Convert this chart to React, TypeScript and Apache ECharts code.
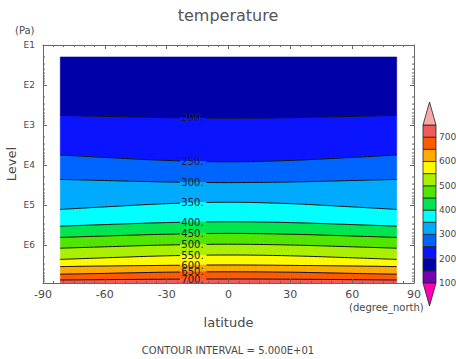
import React, { useEffect, useRef } from "react";
import * as echarts from "echarts";

// latitude samples (degree_north) at which contour positions were read
const LATS = [-81.6, -60, -30, 0, 30, 60, 81.6];
// contour levels (temperature)
const LEVELS = [200, 250, 300, 350, 400, 450, 500, 550, 600, 650, 700];
// log10(pressure [Pa]) of each contour at LATS
const C200 = [2.76, 2.785, 2.816, 2.83, 2.816, 2.785, 2.76];
const C250 = [3.75, 3.81, 3.886, 3.92, 3.886, 3.81, 3.75];
const C300 = [4.36, 4.388, 4.424, 4.44, 4.424, 4.388, 4.36];
const C350 = [5.11, 5.047, 4.966, 4.93, 4.966, 5.047, 5.11];
const C400 = [5.53, 5.49, 5.44, 5.42, 5.44, 5.49, 5.53];
const C450 = [5.81, 5.775, 5.73, 5.71, 5.73, 5.775, 5.81];
const C500 = [6.08, 6.045, 6.0, 5.98, 6.0, 6.045, 6.08];
const C550 = [6.36, 6.32, 6.27, 6.25, 6.27, 6.32, 6.36];
const C600 = [6.54, 6.525, 6.51, 6.5, 6.51, 6.525, 6.54];
const C650 = [6.73, 6.71, 6.68, 6.67, 6.68, 6.71, 6.73];
const C700 = [6.875, 6.866, 6.855, 6.85, 6.855, 6.866, 6.875];
const CONTOURS = [C200, C250, C300, C350, C400, C450, C500, C550, C600, C650, C700];
// vertical extent of the data (log10 Pa)
const DATA_TOP = 1.3;
const DATA_BOTTOM = 6.95;
// band colours: 150-200, 200-250, ..., 700-750
const BAND_COLORS = [
  "#0000a8", "#0a14ff", "#0064ff", "#00aaff", "#00ffff", "#00e650",
  "#50e600", "#aaf000", "#fffa00", "#ffaa00", "#ff5a00", "#f05a5a",
];
// colour bar
const CBAR_LEVELS = [100, 150, 200, 250, 300, 350, 400, 450, 500, 550, 600, 650, 700, 750];
const CBAR_COLORS = ["#7800b4", ...BAND_COLORS];
const LOW_COLOR = "#ff00b4";
const HIGH_COLOR = "#f8aaaa";
// axis settings
const LAT_MIN = -90;
const LAT_MAX = 90;
const LAT_STEP = 30;
const LOGP_MIN = 1;
const LOGP_MAX = 6.95;
const DECADES = [1, 2, 3, 4, 5, 6];
const MINOR_MULT = [2, 3, 4, 5, 6, 7, 8, 9];
const LABEL_LAT = -17.5;

const FONT = "DejaVu Sans";
const TXT = "#4a4a4a";
const AX = "#666";

function smooth(pts: number[][], steps = 14): number[][] {
  const out: number[][] = [];
  for (let i = 0; i < pts.length - 1; i++) {
    const p0 = pts[Math.max(0, i - 1)];
    const p1 = pts[i];
    const p2 = pts[i + 1];
    const p3 = pts[Math.min(pts.length - 1, i + 2)];
    for (let s = 0; s < steps; s++) {
      const t = s / steps;
      const t2 = t * t;
      const t3 = t2 * t;
      const f = (a: number, b: number, c: number, d: number) =>
        0.5 * (2 * b + (-a + c) * t + (2 * a - 5 * b + 4 * c - d) * t2 + (-a + 3 * b - 3 * c + d) * t3);
      out.push([f(p0[0], p1[0], p2[0], p3[0]), f(p0[1], p1[1], p2[1], p3[1])]);
    }
  }
  out.push(pts[pts.length - 1]);
  return out;
}

function curvePixels(api: any, vals: number[]): number[][] {
  return smooth(LATS.map((lat, k) => api.coord([lat, vals[k]])));
}

export default function App() {
  const ref = useRef<HTMLDivElement>(null);
  useEffect(() => {
    if (!ref.current) return;
    document.body.style.margin = "0";
    const chart = echarts.init(ref.current, undefined, { renderer: "svg" });
    const flatTop = LATS.map(() => DATA_TOP);
    const flatBottom = LATS.map(() => DATA_BOTTOM);
    const minorTicks: number[] = [];
    DECADES.forEach((d) =>
      MINOR_MULT.forEach((m) => {
        const v = d + Math.log10(m);
        if (v < LOGP_MAX) minorTicks.push(v);
      })
    );

    const axisCommon = {
      type: "value" as const,
      gridIndex: 0,
      axisLine: { show: true, onZero: false, lineStyle: { color: AX, width: 1 } },
      axisTick: { show: true, inside: true, length: 4, lineStyle: { color: AX } },
      splitLine: { show: false },
      z: 10,
    };

    chart.setOption({
      animation: false,
      backgroundColor: "#fff",
      textStyle: { fontFamily: FONT },
      title: {
        text: "temperature",
        left: "center",
        top: 2,
        textStyle: { fontFamily: FONT, fontSize: 16, fontWeight: "normal", color: "#555" },
      },
      grid: [
        { left: 43, top: 45, width: 371, height: 238, containLabel: false, outerBoundsMode: "none" },
        { left: 423, top: 125, width: 13, height: 158, containLabel: false, outerBoundsMode: "none" },
      ],
      xAxis: [
        {
          ...axisCommon,
          min: LAT_MIN,
          max: LAT_MAX,
          interval: LAT_STEP,
          position: "bottom",
          minorTick: { show: true, splitNumber: 6, length: 2, lineStyle: { color: AX } },
          axisLabel: { fontSize: 11, color: TXT, margin: 6, fontFamily: FONT },
          name: "latitude",
          nameLocation: "middle",
          nameGap: 33,
          nameMoveOverlap: false,
          nameTextStyle: { fontSize: 13, color: TXT, fontFamily: FONT },
        },
        {
          ...axisCommon,
          min: LAT_MIN,
          max: LAT_MAX,
          interval: LAT_STEP,
          position: "top",
          minorTick: { show: true, splitNumber: 6, length: 2, lineStyle: { color: AX } },
          axisLabel: { show: false },
        },
        { type: "value", gridIndex: 1, min: 0, max: 1, show: false },
      ],
      yAxis: [
        {
          ...axisCommon,
          min: LOGP_MIN,
          max: LOGP_MAX,
          interval: 1,
          inverse: true,
          position: "left",
          axisLabel: {
            fontSize: 9,
            color: TXT,
            margin: 8,
            fontFamily: FONT,
            showMaxLabel: false,
            formatter: (v: number) => "E" + Math.round(v),
          },
          name: "Level",
          nameLocation: "middle",
          nameRotate: 90,
          nameGap: 25,
          nameMoveOverlap: false,
          nameTextStyle: { fontSize: 13, color: TXT, fontFamily: FONT },
        },
        {
          ...axisCommon,
          min: LOGP_MIN,
          max: LOGP_MAX,
          interval: 1,
          inverse: true,
          position: "right",
          axisLabel: { show: false },
        },
        {
          type: "value",
          gridIndex: 1,
          min: CBAR_LEVELS[0],
          max: CBAR_LEVELS[CBAR_LEVELS.length - 1],
          interval: 100,
          position: "right",
          axisLine: { show: false },
          axisTick: { show: false },
          splitLine: { show: false },
          axisLabel: { fontSize: 9, color: TXT, margin: 3, fontFamily: FONT, showMaxLabel: false },
        },
      ],
      graphic: [
        { type: "text", left: 15, top: 25, style: { text: "(Pa)", fontSize: 10, fill: TXT, fontFamily: FONT } },
        {
          type: "text",
          left: 349,
          top: 302,
          style: { text: "(degree_north)", fontSize: 10, fill: TXT, fontFamily: FONT },
        },
        {
          type: "text",
          left: "center",
          top: 345,
          style: { text: "CONTOUR INTERVAL = 5.000E+01", fontSize: 10, fill: TXT, fontFamily: FONT },
        },
      ],
      series: [
        {
          type: "custom",
          xAxisIndex: 0,
          yAxisIndex: 0,
          data: BAND_COLORS.map((_, i) => [i]),
          z: 2,
          renderItem: (params: any, api: any) => {
            const i = api.value(0);
            const top = i === 0 ? flatTop : CONTOURS[i - 1];
            const bot = i === BAND_COLORS.length - 1 ? flatBottom : CONTOURS[i];
            const a = curvePixels(api, top);
            const b = curvePixels(api, bot).reverse();
            return {
              type: "polygon",
              shape: { points: a.concat(b) },
              style: { fill: BAND_COLORS[i], stroke: BAND_COLORS[i], lineWidth: 0.6 },
            };
          },
        },
        {
          type: "custom",
          xAxisIndex: 0,
          yAxisIndex: 0,
          data: LEVELS.map((_, i) => [i]),
          z: 3,
          renderItem: (params: any, api: any) => {
            const i = api.value(0);
            const pts = curvePixels(api, CONTOURS[i]);
            const lx = api.coord([LABEL_LAT, 0])[0];
            const half = 12.5;
            let ly = pts[0][1];
            for (let k = 0; k < pts.length - 1; k++) {
              if (pts[k][0] <= lx && pts[k + 1][0] >= lx) {
                const t = (lx - pts[k][0]) / (pts[k + 1][0] - pts[k][0]);
                ly = pts[k][1] + t * (pts[k + 1][1] - pts[k][1]);
              }
            }
            const left = pts.filter((p) => p[0] <= lx - half);
            const right = pts.filter((p) => p[0] >= lx + half);
            const ls = { stroke: "#111", lineWidth: 1, fill: "none" };
            return {
              type: "group",
              children: [
                { type: "polyline", shape: { points: left }, style: ls },
                { type: "polyline", shape: { points: right }, style: ls },
                {
                  type: "text",
                  x: lx,
                  y: ly,
                  style: {
                    text: LEVELS[i] + ".",
                    fontSize: 10,
                    fontFamily: FONT,
                    fill: "#222",
                    align: "center",
                    verticalAlign: "middle",
                  },
                },
              ],
            };
          },
        },
        {
          type: "custom",
          xAxisIndex: 0,
          yAxisIndex: 0,
          data: minorTicks.map((v) => [0, v]),
          z: 12,
          renderItem: (params: any, api: any) => {
            const v = api.value(1);
            const l = api.coord([LAT_MIN, v]);
            const r = api.coord([LAT_MAX, v]);
            const st = { stroke: AX, lineWidth: 1 };
            return {
              type: "group",
              children: [
                { type: "line", shape: { x1: l[0], y1: l[1], x2: l[0] + 2, y2: l[1] }, style: st },
                { type: "line", shape: { x1: r[0] - 2, y1: r[1], x2: r[0], y2: r[1] }, style: st },
              ],
            };
          },
        },
        {
          type: "custom",
          xAxisIndex: 2,
          yAxisIndex: 2,
          data: CBAR_COLORS.map((_, i) => [i]),
          z: 5,
          renderItem: (params: any, api: any) => {
            const i = api.value(0);
            const p1 = api.coord([0, CBAR_LEVELS[i + 1]]);
            const p2 = api.coord([1, CBAR_LEVELS[i]]);
            const st = { stroke: "#222", lineWidth: 0.8 };
            const children: any[] = [
              {
                type: "rect",
                shape: { x: p1[0], y: p1[1], width: p2[0] - p1[0], height: p2[1] - p1[1] },
                style: { ...st, fill: CBAR_COLORS[i] },
              },
            ];
            const tip = 23;
            if (i === 0) {
              children.push({
                type: "polygon",
                shape: { points: [[p1[0], p2[1]], [p2[0], p2[1]], [(p1[0] + p2[0]) / 2, p2[1] + tip]] },
                style: { ...st, fill: LOW_COLOR },
              });
            }
            if (i === CBAR_COLORS.length - 1) {
              children.push({
                type: "polygon",
                shape: { points: [[p1[0], p1[1]], [p2[0], p1[1]], [(p1[0] + p2[0]) / 2, p1[1] - tip]] },
                style: { ...st, fill: HIGH_COLOR },
              });
            }
            return { type: "group", children };
          },
        },
      ],
    });
    return () => chart.dispose();
  }, []);
  return <div ref={ref} style={{ width: 456, height: 359 }} />;
}
